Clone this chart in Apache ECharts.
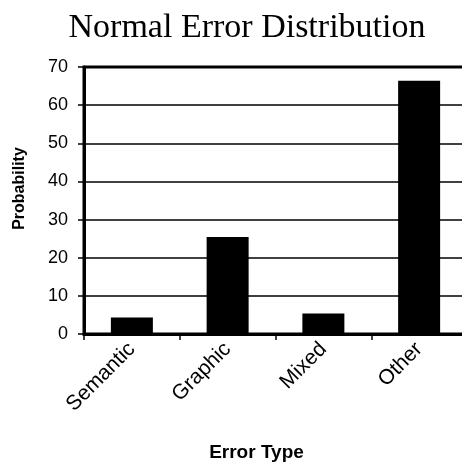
<!DOCTYPE html>
<html><head><meta charset="utf-8">
<script src="https://cdn.jsdelivr.net/npm/echarts@6/dist/echarts.min.js"></script>
<style>html,body{margin:0;padding:0;background:#fff}#c{width:462px;height:466px}</style>
</head><body><div id="c"></div>
<script>
const titleText = "Normal Error Distribution";
const categories = ["Semantic", "Graphic", "Mixed", "Other"];
const probability = [4.3, 25.4, 5.4, 66.4];
const yAxisName = "Probability";
const xAxisName = "Error Type";

const chart = echarts.init(document.getElementById('c'), null, {renderer: 'canvas'});
chart.setOption({
  animation: false,
  backgroundColor: '#fff',
  title: {
    text: titleText, left: 242, textAlign: 'center', top: 6,
    textStyle: {fontFamily: 'Liberation Serif', fontSize: 34, fontWeight: 'normal', color: '#000'}
  },
  grid: {left: 84, right: -5, top: 67, bottom: 132, containLabel: false, outerBoundsMode: 'none',
    show: true, borderColor: '#000', borderWidth: 3, backgroundColor: 'transparent'},
  xAxis: {
    type: 'category', data: categories,
    name: xAxisName, nameLocation: 'middle', nameGap: 109,
    nameTextStyle: {fontFamily: 'Liberation Sans', fontSize: 19, fontWeight: 'bold', color: '#000', padding: [0, 38, 0, 0]},
    axisLine: {show: true, lineStyle: {color: '#000', width: 3}},
    axisTick: {show: true, length: 6, lineStyle: {color: '#000', width: 1.5}},
    axisLabel: {rotate: 45, margin: 12, fontFamily: 'Liberation Sans', fontSize: 21, color: '#000'}
  },
  yAxis: {
    type: 'value', min: 0, max: 70, interval: 10,
    name: yAxisName, nameLocation: 'middle', nameGap: 56, nameRotate: 90,
    nameTextStyle: {fontFamily: 'Liberation Sans', fontSize: 16, fontWeight: 'bold', color: '#000', padding: [0, 0, 0, 24]},
    axisLine: {show: true, lineStyle: {color: '#000', width: 3}},
    axisTick: {show: true, length: 6, lineStyle: {color: '#000', width: 1.5}},
    axisLabel: {margin: 16, fontFamily: 'Liberation Sans', fontSize: 18, color: '#000'},
    splitLine: {show: true, lineStyle: {color: '#000', width: 1.5}}
  },
  series: [{
    type: 'bar', data: probability, barWidth: 42,
    itemStyle: {color: '#000'}
  }]
});
</script></body></html>
